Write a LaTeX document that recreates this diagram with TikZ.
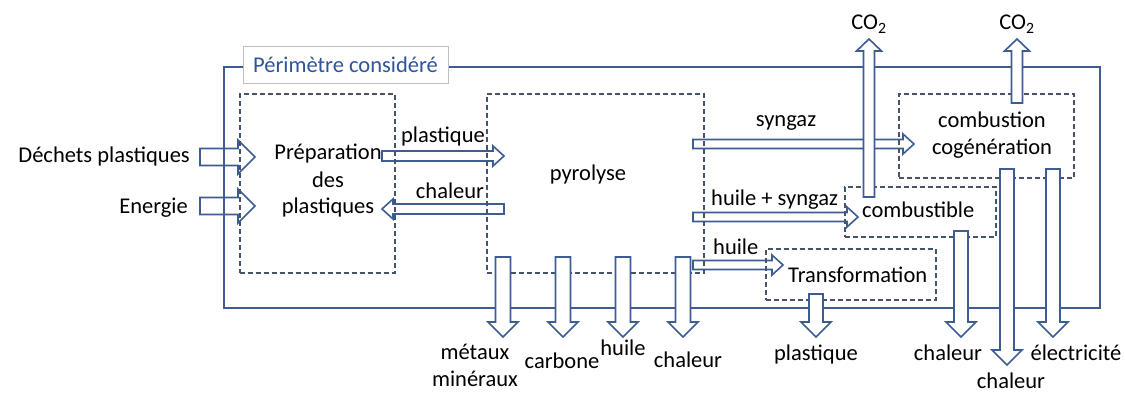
\documentclass[tikz,border=0pt]{standalone}
\usepackage{fontspec}
\setmainfont{Carlito}
\definecolor{arrblue}{RGB}{60,92,146}
\definecolor{dashblue}{RGB}{68,84,106}
\definecolor{lblblue}{RGB}{47,85,151}
\definecolor{lblgray}{RGB}{191,191,191}
\tikzset{
  arr/.style={draw=arrblue, line width=1.6pt, fill=white, line join=miter},
  perim/.style={draw=arrblue, line width=1.6pt},
  dbox/.style={draw=dashblue, line width=1.2pt, dash pattern=on 5pt off 3pt, inner sep=0pt, outer sep=0pt},
  lbl/.style={draw=lblgray, line width=0.8pt, fill=white, text=lblblue, minimum width=205pt, minimum height=37pt, inner sep=0pt},
  txt/.style={font=\fontsize{22.5}{26}\selectfont, inner sep=0pt, anchor=base},
  pics/barrow/.style n args={4}{code={
    \draw[arr] (0,#2) -- ({#1-#4},#2) -- ({#1-#4},#3) -- (#1,0) -- ({#1-#4},-#3) -- ({#1-#4},-#2) -- (0,-#2) -- cycle;}}
}
\begin{document}
\begin{tikzpicture}[x=1pt,y=-1pt]
\useasboundingbox (0,0) rectangle (1125,393);

% horizontal flow arrows (drawn below the lines)
\pic at (200,157) {barrow={55}{8.5}{17}{17}};
\pic at (200,206) {barrow={55}{8.5}{17}{17}};
\pic at (382,156) {barrow={122}{5}{10}{11}};
\pic[rotate=180] at (504,209) {barrow={122}{5}{10}{11}};
\pic at (693,144) {barrow={221}{4.5}{10}{11}};
\pic at (693,217) {barrow={165}{4.5}{10}{11}};
\pic at (693,265) {barrow={90}{4.5}{10}{11}};

% perimeter
\draw[perim] (224,67) rectangle (1100,308);

% process boxes
\node[dbox, minimum width=155pt, minimum height=179pt] (prep) at (317.5,183.5) {};
\node[dbox, minimum width=217pt, minimum height=179pt] (pyro) at (595.5,183.5) {};
\node[dbox, minimum width=175pt, minimum height=84pt] (cogen) at (986.5,136) {};
\node[dbox, minimum width=151pt, minimum height=50pt] (combu) at (920.5,212) {};
\node[dbox, minimum width=170pt, minimum height=51pt] (transf) at (851,274.5) {};

% perimeter label
\node[lbl, font=\fontsize{22.5}{26}\selectfont] (perimlabel) at (345.5,64.5) {Périmètre considéré};

% vertical arrows
\pic[rotate=90] at (869,197) {barrow={158}{5.5}{12.5}{12}};
\pic[rotate=90] at (1017,103) {barrow={64}{5.5}{12.5}{12}};
\foreach \xx in {503,563,623,683}{
  \pic[rotate=-90] at (\xx,257) {barrow={80}{7.5}{15}{15}};
}
\pic[rotate=-90] at (816,294) {barrow={43}{7}{15}{15}};
\pic[rotate=-90] at (961,231) {barrow={106}{7}{15}{15}};
\pic[rotate=-90] at (1007,169) {barrow={196}{7}{15}{15}};
\pic[rotate=-90] at (1053,169) {barrow={168}{7}{15}{15}};

% texts
\node[txt, anchor=base east] (tdechets) at (190,163) {Déchets plastiques};
\node[txt, anchor=base east] (tenergie) at (188,213) {Energie};
\node[txt] (tprep1) at (328,160) {Préparation};
\node[txt] (tprep2) at (328,187) {des};
\node[txt] (tprep3) at (328,213) {plastiques};
\node[txt] (tplast) at (443,143) {plastique};
\node[txt] (tchal) at (450,199) {chaleur};
\node[txt] (tpyro) at (588,180) {pyrolyse};
\node[txt] (tsyngaz) at (786,127) {syngaz};
\node[txt] (tcomb1) at (992,128) {combustion};
\node[txt] (tcomb2) at (992,155) {cogénération};
\node[txt, anchor=base west] (thsyn) at (711,205) {huile + syngaz};
\node[txt, anchor=base west] (tcombu) at (862,218) {combustible};
\node[txt, anchor=base west] (thuile) at (713,254) {huile};
\node[txt, anchor=base west] (ttransf) at (788,282) {Transformation};
\node[txt] (tco1) at (869,30) {CO\textsubscript{2}};
\node[txt] (tco2) at (1017,30) {CO\textsubscript{2}};
\node[txt] (tmet1) at (475,359) {métaux};
\node[txt] (tmet2) at (475,386) {minéraux};
\node[txt] (tcarb) at (562,368) {carbone};
\node[txt] (thuile2) at (623,355) {huile};
\node[txt] (tchal2) at (688,367) {chaleur};
\node[txt] (tplast2) at (816,360) {plastique};
\node[txt] (tchal3) at (948,360) {chaleur};
\node[txt] (telec) at (1076,360) {électricité};
\node[txt] (tchal4) at (1011,388) {chaleur};
\end{tikzpicture}
\end{document}
